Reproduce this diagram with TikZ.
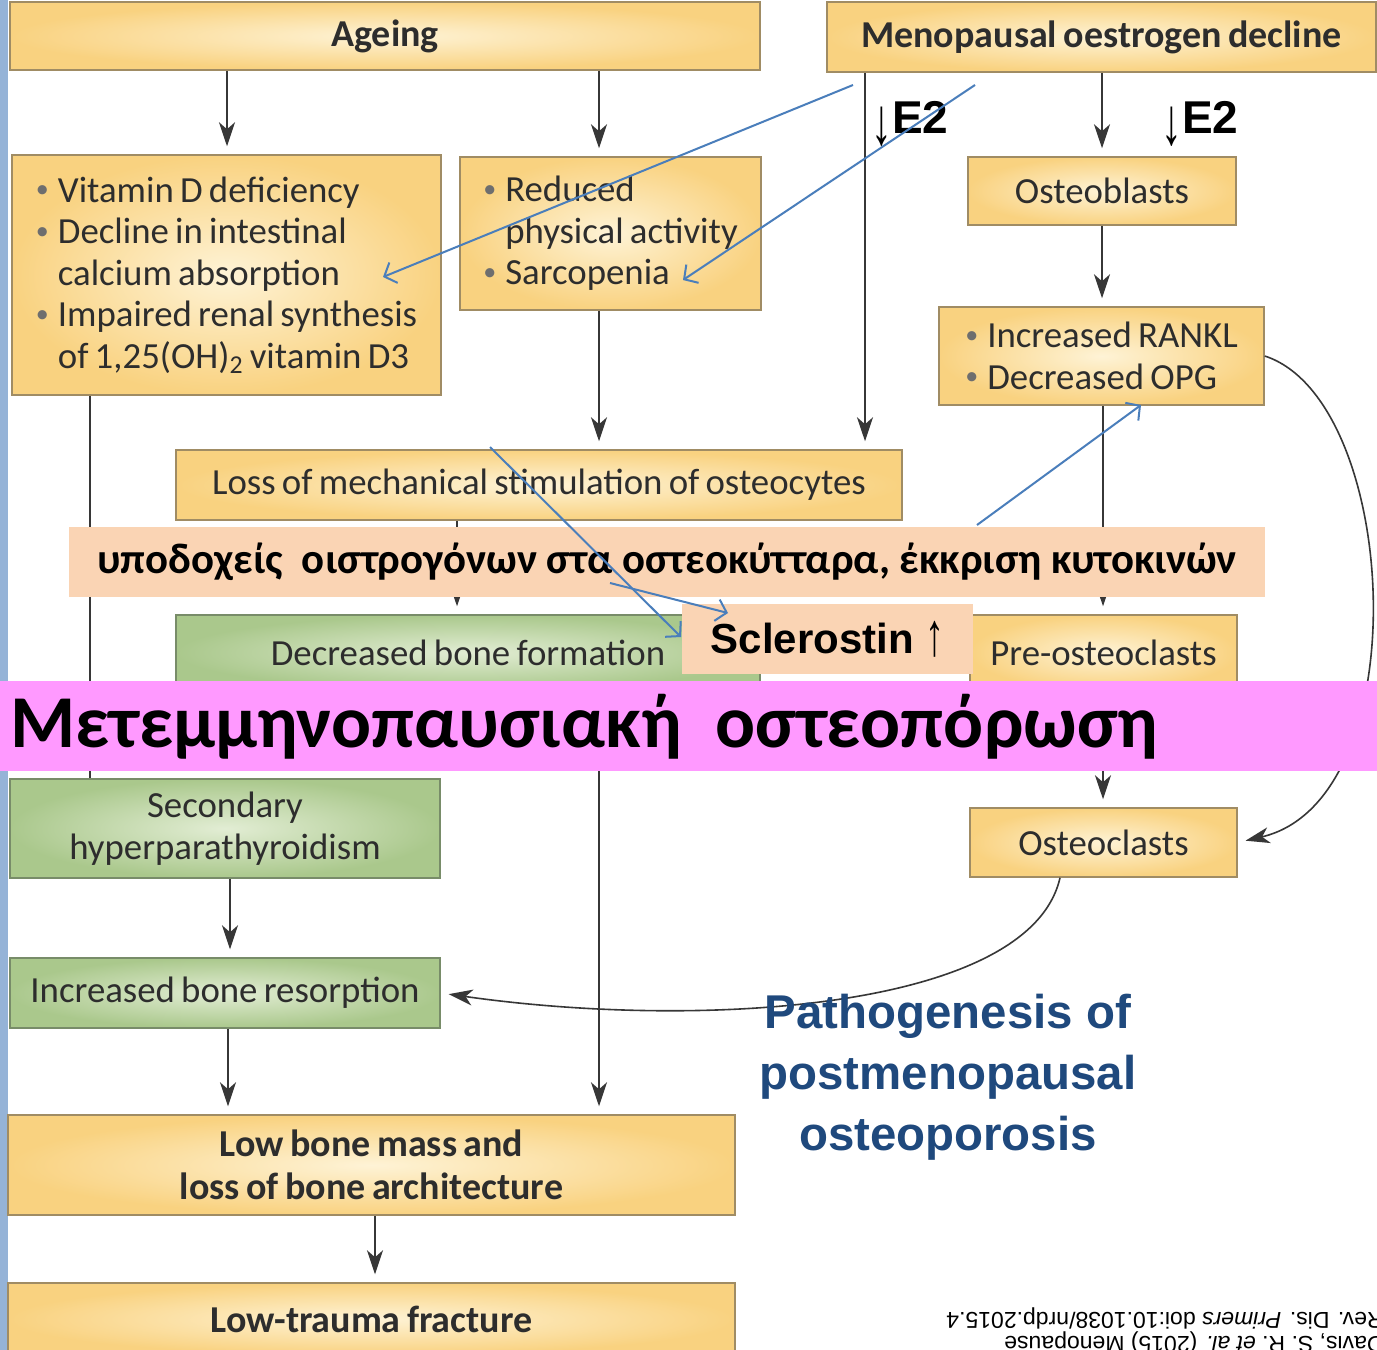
\documentclass[tikz,border=0pt]{standalone}
\usepackage{fontspec}
\usepackage{graphicx}
\setmainfont{Carlito}[WordSpace=0.75]
\newfontfamily\calib{Carlito}
\newfontfamily\arialf{Liberation Sans}
\usetikzlibrary{arrows.meta}
\definecolor{yin}{RGB}{254,243,214}
\definecolor{yout}{RGB}{249,210,128}
\definecolor{ybord}{RGB}{160,140,100}
\definecolor{gin}{RGB}{226,237,212}
\definecolor{gout}{RGB}{170,200,140}
\definecolor{gbord}{RGB}{120,140,105}
\definecolor{txt}{RGB}{45,45,45}
\definecolor{lin}{RGB}{55,55,55}
\definecolor{bulc}{RGB}{110,110,110}
\definecolor{peach}{RGB}{250,212,180}
\definecolor{pinkc}{RGB}{255,153,255}
\definecolor{stripc}{RGB}{149,179,215}
\definecolor{bluel}{RGB}{74,126,187}
\definecolor{pathblue}{RGB}{31,73,125}
\newcommand\bodyf{\fontsize{18.4}{20.75}\selectfont}
\newcommand\headf{\fontsize{19}{21.5}\selectfont\bfseries}
\newcommand\bl{\makebox[11pt][l]{\raisebox{0.12em}{\textcolor{bulc}{\fontsize{13}{13}\selectfont\textbullet}}}}
\newcommand\ind{\hspace*{11pt}}
\newcommand\tallarrow[2]{\raisebox{#2}{\scalebox{0.9}[1.45]{\mdseries #1}}}
\begin{document}
\begin{tikzpicture}[x=0.5pt,y=-0.5pt,
  spanbox/.style n args={4}{at={({(#1+#3)/2},{(#2+#4)/2})}, minimum width={(#3-#1)*0.5pt}, minimum height={(#4-#2)*0.5pt}},
  ybox/.style={draw=ybord, line width=0.75pt, inner color=yin, outer color=yout, inner sep=0pt, text=txt, font=\bodyf},
  gbox/.style={ybox, draw=gbord, inner color=gin, outer color=gout},
  arr/.style={draw=lin, line width=0.8pt, shorten >=4pt, -{Stealth[length=12pt,width=8pt,inset=3.5pt]}},
  plain/.style={draw=lin, line width=0.8pt},
  barr/.style={draw=bluel, line width=1pt, -{Straight Barb[length=5pt,width=11pt]}},
  band/.style={inner sep=0pt, text=black}]
\clip (0,0) rectangle (1377,1350);
\fill[white] (0,0) rectangle (1377,1350);
\fill[stripc] (0,0) rectangle (8,1350);

% column coordinates
\coordinate (c90) at (90,0);
\coordinate (c227) at (227,0);
\coordinate (c230) at (230,0);
\coordinate (c228) at (228,0);
\coordinate (c375) at (375,0);
\coordinate (c457) at (457,0);
\coordinate (c599) at (599,0);
\coordinate (c865) at (865,0);
\coordinate (c1060) at (1060,0);
\coordinate (c1102) at (1102,0);
\coordinate (c1103) at (1103,0);

% boxes
\node[ybox, spanbox={10}{2}{760}{70}, font=\headf] (ageing) {Ageing};
\node[ybox, spanbox={827}{2}{1376}{72}, font=\headf] (meno) {Menopausal oestrogen decline};
\node[ybox, spanbox={12}{155}{441}{395}, align=left] (vitd) {\bl Vitamin D deficiency\\\bl Decline in intestinal\\\ind calcium absorption\\\bl Impaired renal synthesis\\\ind of 1,25(OH)\textsubscript{2} vitamin D3};
\node[ybox, spanbox={460}{157}{761}{310}, align=left] (reduced) {\bl Reduced\\\ind physical activity\\\bl Sarcopenia};
\node[ybox, spanbox={968}{157}{1236}{225}] (osteob) {Osteoblasts};
\node[ybox, spanbox={939}{307}{1264}{405}, align=left] (rankl) {\bl Increased RANKL\\\bl Decreased OPG};
\node[ybox, spanbox={176}{450}{902}{520}] (loss) {Loss of mechanical stimulation of osteocytes};
\node[gbox, spanbox={176}{615}{760}{690}] (decr) {Decreased bone formation};
\node[ybox, spanbox={970}{615}{1237}{690}] (preost) {Pre-osteoclasts};
\node[gbox, spanbox={10}{779}{440}{878}, align=center] (sec) {Secondary\\hyperparathyroidism};
\node[ybox, spanbox={970}{808}{1237}{877}] (osteoc) {Osteoclasts};
\node[gbox, spanbox={10}{958}{440}{1028}] (incr) {Increased bone resorption};
\node[ybox, spanbox={8}{1115}{735}{1215}, font=\headf, align=center] (lowmass) {Low bone mass and\\loss of bone architecture};
\node[ybox, spanbox={8}{1283}{735}{1355}, font=\headf] (fracture) {Low-trauma fracture};

% connectors
\draw[plain] (vitd.south -| c90) -- (sec.north -| c90);
\draw[arr] (ageing.south -| c227) -- (vitd.north -| c227);
\draw[arr] (ageing.south -| c599) -- (reduced.north -| c599);
\draw[arr] (meno.south -| c865) -- (loss.north -| c865);
\draw[arr] (meno.south -| c1102) -- (osteob.north -| c1102);
\draw[arr] (osteob.south -| c1102) -- (rankl.north -| c1102);
\draw[arr] (reduced.south -| c599) -- (loss.north -| c599);
\draw[arr] (rankl.south -| c1103) -- (preost.north -| c1103);
\draw[arr] (loss.south -| c457) -- (decr.north -| c457);
\draw[arr] (decr.south -| c599) -- (lowmass.north -| c599);
\draw[arr] (preost.south -| c1103) -- (osteoc.north -| c1103);
\draw[arr] (sec.south -| c230) -- (incr.north -| c230);
\draw[arr] (incr.south -| c228) -- (lowmass.north -| c228);
\draw[arr] (lowmass.south -| c375) -- (fracture.north -| c375);
\draw[arr] (rankl.east) .. controls (1400,400) and (1420,800) .. (osteoc.east);
\draw[arr] (osteoc.south -| c1060) .. controls (1030,1010) and (700,1030) .. (incr.east);

% overlays
\node[band, fill=peach, spanbox={69}{527}{1265}{597}, font=\calib\fontsize{21.4}{24}\selectfont\bfseries] (recept) {υποδοχείς\ \ οιστρογόνων στα οστεοκύτταρα, έκκριση κυτοκινών};
\node[band, fill=peach, spanbox={682}{604}{973}{674}, font=\arialf\bfseries\fontsize{21}{24}\selectfont] (scl) {Sclerostin \tallarrow{↑}{-0.05em}};
\node[band, fill=pinkc, spanbox={0}{681}{1377}{771}] (pinkband) {};
\node[band, anchor=west, font=\calib\fontsize{37.3}{42}\selectfont\bfseries] (pinktext) at (10,727) {Μετεμμηνοπαυσιακή\ \ οστεοπόρωση};

\node[band, anchor=west, font=\arialf\bfseries\fontsize{23}{26}\selectfont] (e2a) at (871,124) {\tallarrow{↓}{-0.25em}E2};
\node[band, anchor=west, font=\arialf\bfseries\fontsize{23}{26}\selectfont] (e2b) at (1161,124) {\tallarrow{↓}{-0.25em}E2};

\node[band, text=pathblue, align=center, font=\arialf\bfseries\fontsize{23.7}{30.5}\selectfont] (title) at (948,1077) {Pathogenesis of\\postmenopausal\\osteoporosis};

\node[band, rotate=180, anchor=west, align=left, font=\arialf\fontsize{11.5}{12}\selectfont] (cite) at (1384,1330) {Davis, S.\ R. \textit{et al.} (2015) Menopause\\Rev. Dis. \textit{Primers} doi:10.1038/nrdp.2015.4};

% blue arrows
\coordinate (b1s) at (853,85);  \coordinate (b1e) at (383,277);
\coordinate (b2s) at (975,85);  \coordinate (b2e) at (683,280);
\coordinate (b3s) at (490,447); \coordinate (b3e) at (681,637);
\coordinate (b4s) at (610,583); \coordinate (b4e) at (728,613);
\coordinate (b5s) at (977,525); \coordinate (b5e) at (1141,405);
\draw[barr] (b1s) -- (b1e);
\draw[barr] (b2s) -- (b2e);
\draw[barr] (b3s) -- (b3e);
\draw[barr] (b4s) -- (b4e);
\draw[barr] (b5s) -- (b5e);
\end{tikzpicture}
\end{document}
